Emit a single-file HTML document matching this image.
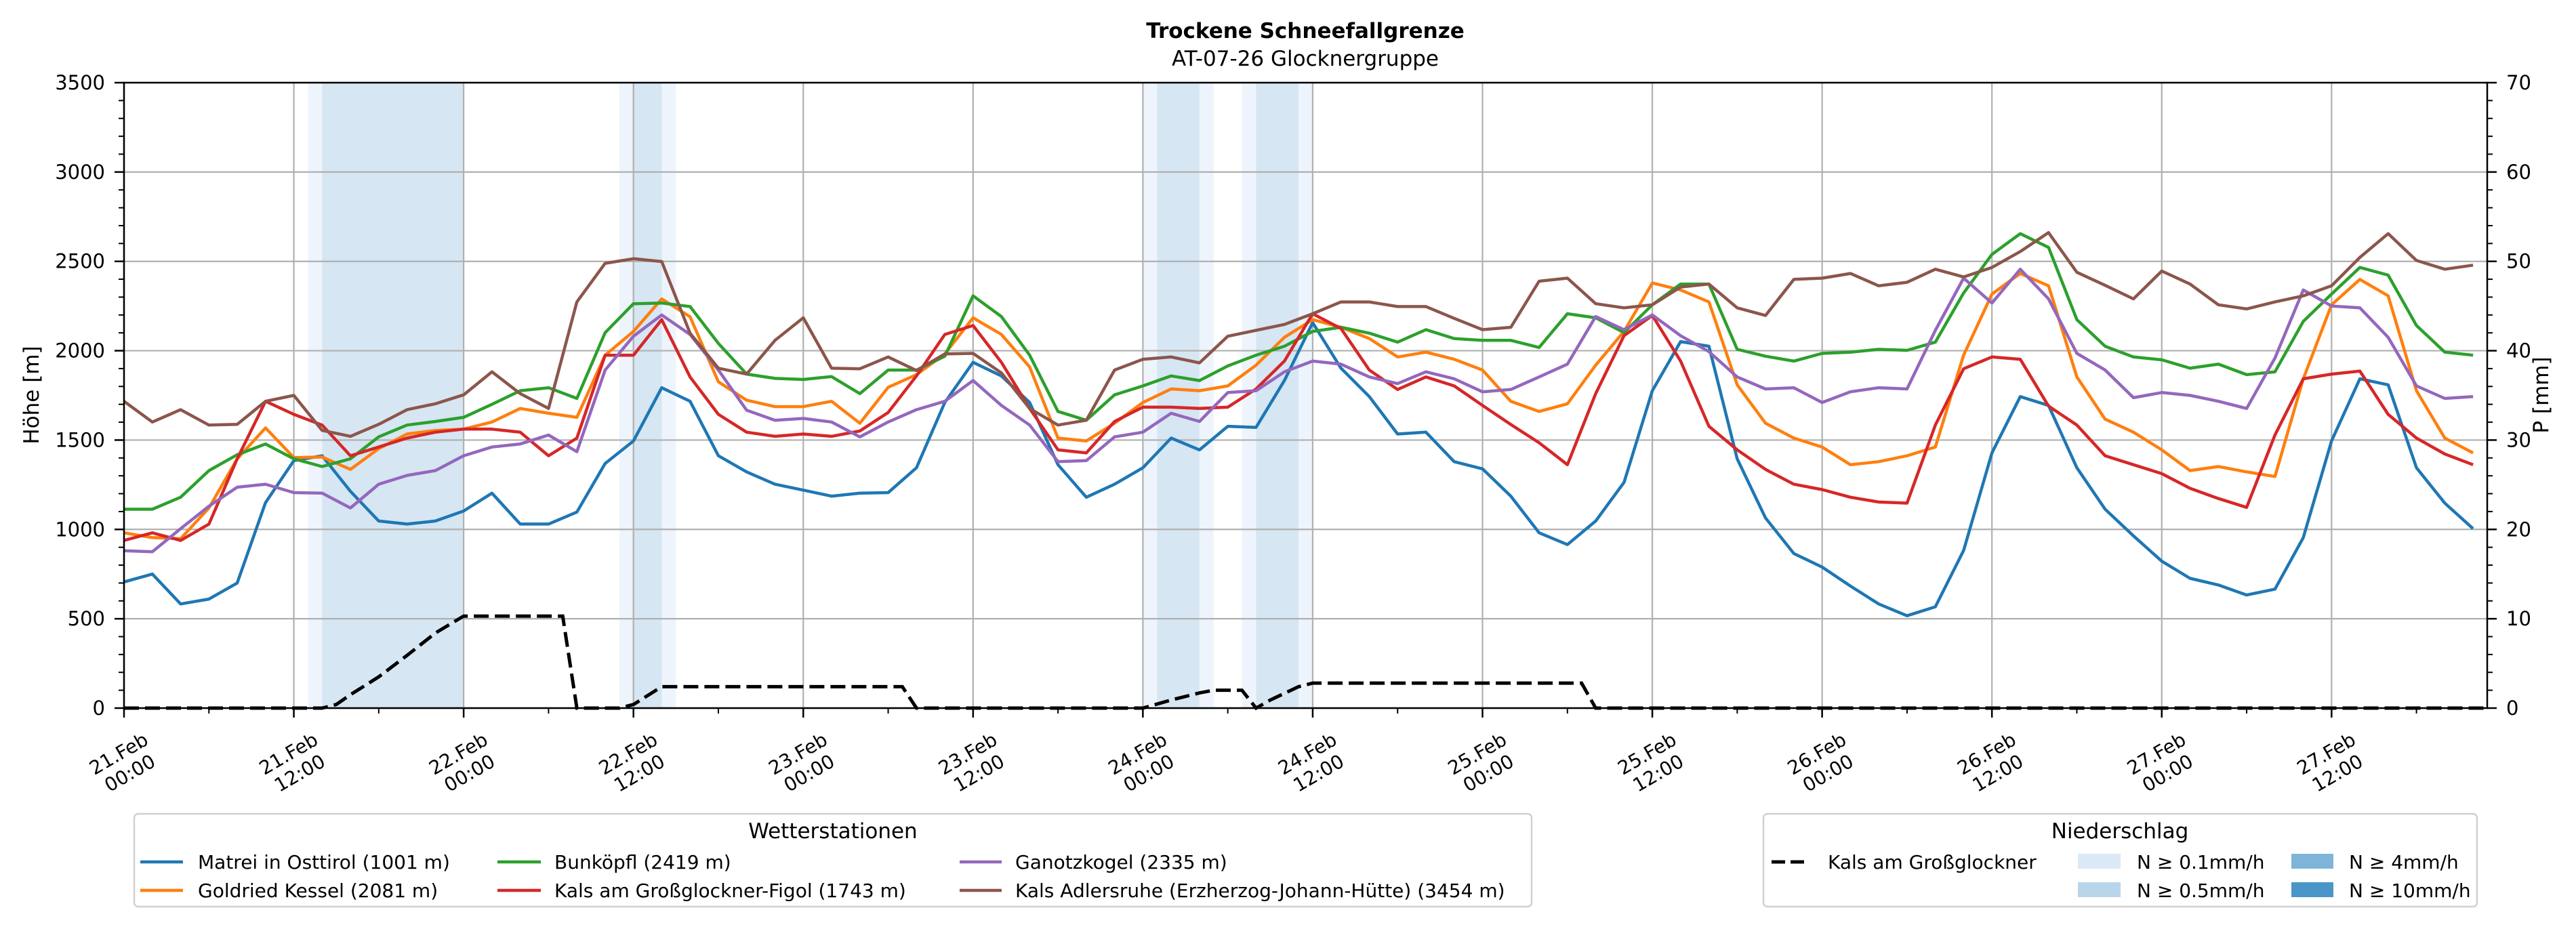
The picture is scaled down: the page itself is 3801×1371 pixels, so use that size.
<!DOCTYPE html>
<html><head><meta charset="utf-8"><style>
html,body{margin:0;padding:0;background:#fff;}
svg{display:block;font-family:"DejaVu Sans","Liberation Sans",sans-serif;}
</style></head><body>
<svg id="chart" width="3801" height="1371" viewBox="0 0 3801 1371" xmlns="http://www.w3.org/2000/svg">
<rect width="3801" height="1371" fill="#fff"/>
<text x="1926" y="56" text-anchor="middle" font-size="31" font-weight="bold">Trockene Schneefallgrenze</text>
<text x="1926" y="97" text-anchor="middle" font-size="31">AT-07-26 Glocknergruppe</text>
<g id="bands"></g>
<g id="grid"></g>
<g id="series"></g>
<g id="axes"></g>
<text transform="translate(57,583) rotate(-90)" text-anchor="middle" font-size="31">Höhe [m]</text>
<text transform="translate(3760,583) rotate(-90)" text-anchor="middle" font-size="31">P [mm]</text>

<g>
<rect x="198" y="1201" width="2062" height="137" rx="6" fill="#fff" stroke="#d0d0d0" stroke-width="2.5"/>
<text x="1229" y="1237" text-anchor="middle" font-size="31">Wetterstationen</text>
<g><line x1="207" x2="270" y1="1272" y2="1272" stroke="#1f77b4" stroke-width="4.5"/><text x="292" y="1282" font-size="28">Matrei in Osttirol (1001 m)</text></g>
<g><line x1="207" x2="270" y1="1314" y2="1314" stroke="#ff7f0e" stroke-width="4.5"/><text x="292" y="1324" font-size="28">Goldried Kessel (2081 m)</text></g>
<g><line x1="734" x2="798" y1="1272" y2="1272" stroke="#2ca02c" stroke-width="4.5"/><text x="818" y="1282" font-size="28">Bunköpfl (2419 m)</text></g>
<g><line x1="734" x2="798" y1="1314" y2="1314" stroke="#d62728" stroke-width="4.5"/><text x="818" y="1324" font-size="28">Kals am Großglockner-Figol (1743 m)</text></g>
<g><line x1="1416" x2="1478" y1="1272" y2="1272" stroke="#9467bd" stroke-width="4.5"/><text x="1498" y="1282" font-size="28">Ganotzkogel (2335 m)</text></g>
<g><line x1="1416" x2="1478" y1="1314" y2="1314" stroke="#8c564b" stroke-width="4.5"/><text x="1498" y="1324" font-size="28">Kals Adlersruhe (Erzherzog-Johann-Hütte) (3454 m)</text></g>
</g>

<g>
<rect x="2602" y="1201" width="1053" height="137" rx="6" fill="#fff" stroke="#d0d0d0" stroke-width="2.5"/>
<text x="3128" y="1237" text-anchor="middle" font-size="31">Niederschlag</text>
<g><line x1="2614" x2="2670" y1="1272" y2="1272" stroke="#000" stroke-width="5" stroke-dasharray="20,8"/><text x="2697" y="1282" font-size="28">Kals am Großglockner</text></g>
<g><rect x="3066" y="1260" width="63" height="22" fill="#dbe9f6"/><text x="3153" y="1282" font-size="28">N ≥ 0.1mm/h</text></g>
<g><rect x="3066" y="1302" width="63" height="22" fill="#b9d5ea"/><text x="3153" y="1324" font-size="28">N ≥ 0.5mm/h</text></g>
<g><rect x="3381" y="1260" width="62" height="22" fill="#7fb4d9"/><text x="3466" y="1282" font-size="28">N ≥ 4mm/h</text></g>
<g><rect x="3381" y="1302" width="62" height="22" fill="#4a96c9"/><text x="3466" y="1324" font-size="28">N ≥ 10mm/h</text></g>
</g>
</svg>
<script>
const hours = [];
for (let h = 0; h <= 166; h += 2) hours.push(h);
const matrei = [706,750,583,610,700,1150,1385,1412,1213,1047,1030,1047,1103,1203,1030,1030,1097,1369,1495,1793,1717,1412,1322,1253,1220,1186,1203,
1206,1345,1710,1935,1859,1710,1362,1180,1253,1345,1511,1445,1577,1571,1833,2157,1902,1743,1534,1544,1379,1339,1186,981,915,1047,1263,1776,2051,
2025,1395,1064,865,789,683,583,517,567,882,1428,1743,1694,1345,1113,964,822,726,689,633,666,954,1495,1843,1809,1345,1147,1004];
const goldried = [981,954,948,1120,1395,1568,1402,1405,1336,1452,1534,1554,1561,1601,1677,1650,1627,1975,2108,2290,2190,1826,1723,1687,1687,1717,1594,
1795,1866,1982,2184,2091,1909,1511,1495,1594,1710,1786,1776,1803,1919,2075,2174,2131,2068,1965,1992,1952,1892,1717,1660,1703,1919,2108,2379,2340,
2273,1809,1594,1511,1461,1362,1379,1412,1461,1975,2317,2432,2363,1853,1617,1544,1445,1329,1352,1322,1296,1843,2257,2399,2307,1776,1511,1428];
const bunkoepfl = [1113,1113,1180,1329,1418,1478,1395,1352,1395,1518,1584,1604,1627,1700,1776,1793,1733,2101,2263,2267,2247,2041,1869,1845,1839,1855,1760,
1892,1892,1969,2307,2191,1975,1660,1611,1753,1803,1859,1833,1915,1975,2025,2108,2131,2098,2048,2118,2068,2058,2058,2018,2207,2184,2101,2257,2373,
2373,2008,1969,1942,1985,1992,2008,2002,2048,2323,2539,2655,2578,2174,2025,1965,1949,1902,1925,1866,1882,2164,2317,2466,2423,2141,1992,1975];
const kalsFigol = [938,981,938,1030,1395,1717,1644,1584,1412,1461,1511,1544,1561,1561,1544,1412,1511,1975,1975,2174,1853,1644,1544,1521,1534,1521,1551,
1654,1859,2091,2141,1935,1677,1445,1428,1604,1684,1684,1677,1684,1786,1942,2207,2124,1892,1783,1853,1803,1694,1587,1485,1362,1760,2084,2197,1942,
1577,1445,1336,1253,1223,1180,1153,1147,1584,1899,1965,1952,1690,1584,1412,1362,1312,1230,1173,1123,1528,1843,1869,1886,1644,1511,1422,1362];
const ganotzkogel = [881,875,1004,1130,1236,1253,1206,1203,1120,1253,1302,1329,1412,1461,1478,1528,1435,1892,2081,2200,2091,1892,1667,1611,1621,1601,1518,
1601,1670,1717,1833,1694,1584,1379,1385,1518,1544,1650,1604,1766,1776,1882,1942,1925,1853,1816,1882,1843,1770,1783,1853,1925,2191,2118,2200,2084,
1995,1853,1786,1793,1710,1770,1793,1786,2114,2406,2267,2456,2290,1985,1892,1737,1766,1750,1717,1677,1959,2340,2250,2240,2075,1803,1733,1743];
const adlersruhe = [1717,1601,1670,1584,1588,1717,1750,1554,1521,1588,1670,1703,1753,1882,1760,1677,2273,2489,2515,2499,2098,1902,1869,2058,2184,1902,1899,
1965,1889,1982,1985,1876,1677,1584,1611,1892,1952,1965,1932,2081,2114,2147,2207,2273,2273,2247,2247,2181,2118,2131,2389,2406,2263,2240,2257,2356,
2373,2240,2197,2399,2406,2432,2363,2383,2456,2413,2466,2555,2661,2439,2366,2290,2446,2373,2257,2234,2273,2307,2363,2522,2655,2505,2456,2479];
const precipHours = [0,14,15,16,18,20,22,24,31,32,35,36,38,55,56,72,74,76,77,79,80,81,83,84,103,104,167];
const precipMm = [0,0,0.4,1.5,3.5,5.9,8.4,10.3,10.3,0,0,0.4,2.4,2.4,0,0,0.9,1.7,2.0,2.0,0,0.9,2.4,2.8,2.8,0,0];
const bandStart = [13,14,35,36,38,72,73,76,79,80,83];
const bandEnd = [14,24,36,38,39,73,76,77,80,83,84];
const bandLevel = [1,2,1,2,1,1,2,1,1,2,1];
const yTicks = [0,500,1000,1500,2000,2500,3000,3500];
const y2Ticks = [0,10,20,30,40,50,60,70];
const xTickDays = ["21.Feb","21.Feb","22.Feb","22.Feb","23.Feb","23.Feb","24.Feb","24.Feb","25.Feb","25.Feb","26.Feb","26.Feb","27.Feb","27.Feb"];
const xTickTimes = ["00:00","12:00","00:00","12:00","00:00","12:00","00:00","12:00","00:00","12:00","00:00","12:00","00:00","12:00"];

const NS = "http://www.w3.org/2000/svg";
const L = 183, R = 3670, T = 122, B = 1045, HMAX = 167;
const x = h => L + h * (R - L) / HMAX;
const y = m => B - m * (B - T) / 3500;
const y2 = p => B - p * (B - T) / 70;
function mk(tag, attrs, parent) {
  const e = document.createElementNS(NS, tag);
  for (const k in attrs) e.setAttribute(k, attrs[k]);
  parent.appendChild(e);
  return e;
}
const bands = document.getElementById('bands');
bandStart.forEach((s, i) => {
  const r = mk('rect', {x: x(s), y: T, width: x(bandEnd[i]) - x(s), height: B - T, fill: bandLevel[i] === 1 ? '#eef4fb' : '#d6e6f3'}, bands);
  
  
});
const grid = document.getElementById('grid');
xTickDays.forEach((d, i) => {
  const gx = x(i * 12);
  const l = mk('line', {x1: gx, x2: gx, y1: T, y2: B, stroke: '#b0b0b0', 'stroke-width': 2.2}, grid);
  
  
});
yTicks.forEach(v => {
  const l = mk('line', {x1: L, x2: R, y1: y(v), y2: y(v), stroke: '#b0b0b0', 'stroke-width': 2.2}, grid);
  
  
});
const series = document.getElementById('series');
const pp = precipHours.map((h, i) => x(h).toFixed(1) + ',' + y2(precipMm[i]).toFixed(1)).join(' ');
const dl = mk('polyline', {points: pp, fill: 'none', stroke: '#000', 'stroke-width': 5, 'stroke-dasharray': '22,9'}, series);


const lines = [[matrei,'#1f77b4','line-matrei'],[goldried,'#ff7f0e','line-goldried'],[bunkoepfl,'#2ca02c','line-bunkoepfl'],[kalsFigol,'#d62728','line-kals-figol'],[ganotzkogel,'#9467bd','line-ganotzkogel'],[adlersruhe,'#8c564b','line-adlersruhe']];
lines.forEach(([vals, col, name]) => {
  const pts = vals.map((v, i) => x(hours[i]).toFixed(1) + ',' + y(v).toFixed(1)).join(' ');
  const pl = mk('polyline', {points: pts, fill: 'none', stroke: col, 'stroke-width': 4.5, 'stroke-linejoin': 'round'}, series);
  
  
});
const axes = document.getElementById('axes');
mk('rect', {x: L, y: T, width: R - L, height: B - T, fill: 'none', stroke: '#000', 'stroke-width': 2.5}, axes);
yTicks.forEach(v => {
  mk('line', {x1: L - 14, x2: L, y1: y(v), y2: y(v), stroke: '#000', 'stroke-width': 2.5}, axes);
  const t = mk('text', {x: L - 28, y: y(v) + 10, 'text-anchor': 'end', 'font-size': 29}, axes);
  t.textContent = v;
  
  
});
for (let v = 0; v <= 3500; v += 100) if (v % 500) mk('line', {x1: L - 8, x2: L, y1: y(v), y2: y(v), stroke: '#000', 'stroke-width': 2}, axes);
y2Ticks.forEach(v => {
  mk('line', {x1: R, x2: R + 14, y1: y2(v), y2: y2(v), stroke: '#000', 'stroke-width': 2.5}, axes);
  const t = mk('text', {x: R + 28, y: y2(v) + 10, 'text-anchor': 'start', 'font-size': 29}, axes);
  t.textContent = v;
  
  
});
for (let v = 0; v <= 70; v += 2) if (v % 10) mk('line', {x1: R, x2: R + 8, y1: y2(v), y2: y2(v), stroke: '#000', 'stroke-width': 2}, axes);
xTickDays.forEach((d, i) => {
  const gx = x(i * 12);
  mk('line', {x1: gx, x2: gx, y1: B, y2: B + 14, stroke: '#000', 'stroke-width': 2.5}, axes);
  mk('line', {x1: x(i * 12 + 6), x2: x(i * 12 + 6), y1: B, y2: B + 8, stroke: '#000', 'stroke-width': 2}, axes);
  const g = mk('g', {transform: `translate(${gx},1126) rotate(-30)`}, axes);
  
  
  const t1 = mk('text', {x: 0, y: -6, 'text-anchor': 'middle', 'font-size': 28}, g);
  t1.textContent = d;
  const t2 = mk('text', {x: 0, y: 27, 'text-anchor': 'middle', 'font-size': 28}, g);
  t2.textContent = xTickTimes[i];
});
</script>
</body></html>
